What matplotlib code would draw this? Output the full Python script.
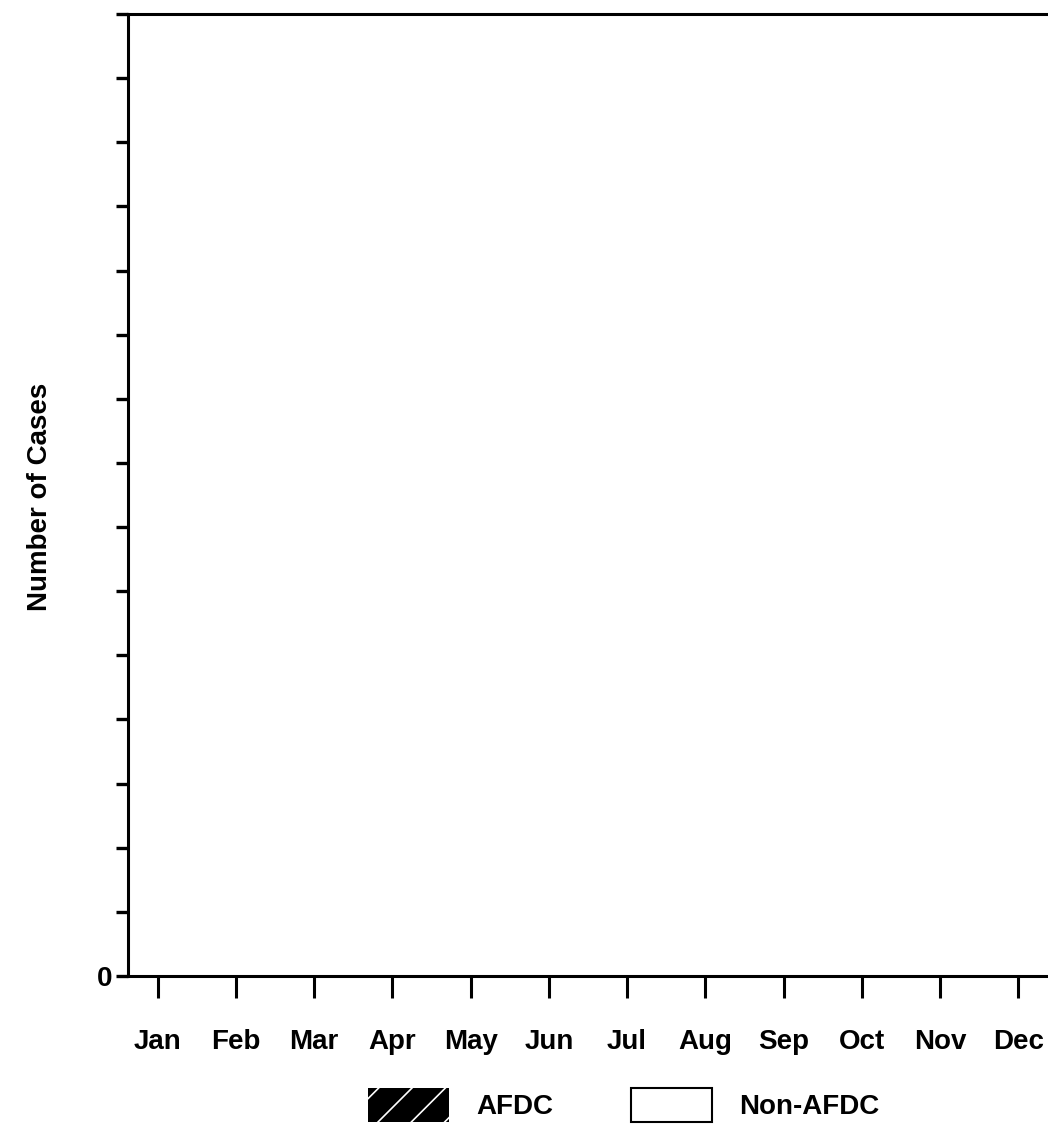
import matplotlib.pyplot as plt
from matplotlib.patches import Patch

months = ["Jan", "Feb", "Mar", "Apr", "May", "Jun",
          "Jul", "Aug", "Sep", "Oct", "Nov", "Dec"]
# the source chart is an empty template: no cases plotted yet
afdc_cases = [0] * 12
non_afdc_cases = [0] * 12
y_ticks = list(range(0, 16))
y_tick_labels = ["0"] + [""] * 15

plt.rcParams["font.family"] = ["Liberation Sans", "DejaVu Sans"]
plt.rcParams["font.weight"] = "bold"
plt.rcParams["hatch.linewidth"] = 1.2

fig = plt.figure(figsize=(10.48, 11.26), dpi=100)
ax = fig.add_axes([128 / 1048, 1 - 976 / 1126, 1 - 128 / 1048, (976 - 14) / 1126])

x = list(range(len(months)))
w = 0.35
ax.bar([i - w / 2 for i in x], afdc_cases, w, facecolor="black",
       edgecolor="white", hatch="/", linewidth=0)
ax.bar([i + w / 2 for i in x], non_afdc_cases, w, facecolor="white",
       edgecolor="black", linewidth=0)

ax.set_xlim(-0.38, 11.38)
ax.set_ylim(0, 15)
ax.set_xticks(x)
ax.set_xticklabels(months, fontsize=20, fontweight="bold")
ax.set_yticks(y_ticks)
ax.set_yticklabels(y_tick_labels, fontsize=20, fontweight="bold")

ax.spines["right"].set_visible(False)
for s in ["left", "top", "bottom"]:
    ax.spines[s].set_linewidth(2.2)
ax.tick_params(axis="x", direction="out", length=16, width=2.2, pad=22)
ax.tick_params(axis="y", direction="out", length=9, width=2.4, pad=2)

fig.text(40 / 1048, 1 - 497 / 1126, "Number of Cases", rotation=90,
         ha="center", va="center", fontsize=20, fontweight="bold")

handles = [
    Patch(facecolor="black", edgecolor="white", hatch="/", linewidth=0, label="AFDC"),
    Patch(facecolor="white", edgecolor="black", linewidth=1.5, label="Non-AFDC"),
]
fig.legend(handles=handles, loc="upper left",
           bbox_to_anchor=(368 / 1048, 1 - 1088 / 1126),
           ncol=2, frameon=False, borderpad=0, borderaxespad=0,
           handlelength=2.9, handleheight=1.5, handletextpad=1.0,
           columnspacing=2.8, prop={"weight": "bold", "size": 20})

fig.savefig("out.png", dpi=100, facecolor="white")
